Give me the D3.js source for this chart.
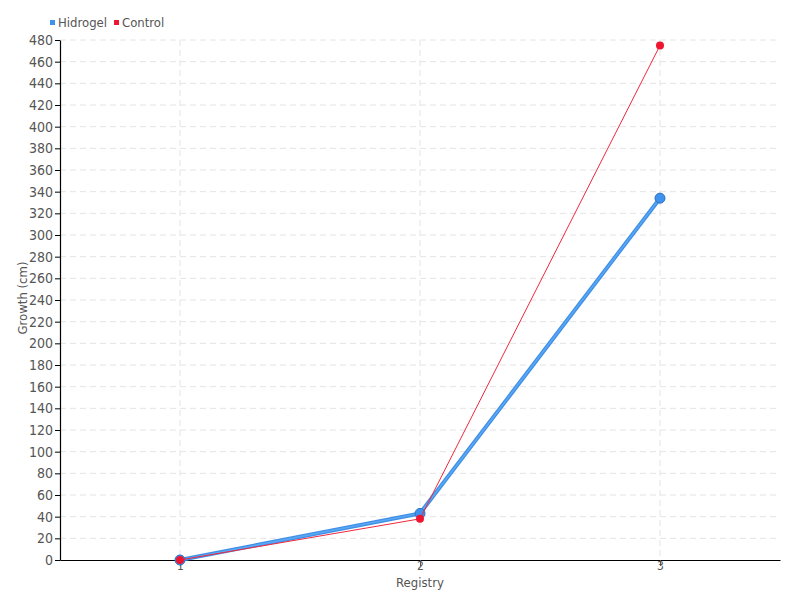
<!DOCTYPE html>
<html>
<head>
<meta charset="utf-8">
<script src="https://cdn.jsdelivr.net/npm/d3@7"></script>
<style>
  body { margin: 0; background: #fff; }
  text { font-family: "DejaVu Sans Condensed", "DejaVu Sans", sans-serif; fill: #555; }
</style>
</head>
<body>
<script>
var registry = [1, 2, 3];
var hidrogel = [0, 43, 334];
var control = [0, 38, 475];
var yTicks = d3.range(0, 481, 20);

var margin = { top: 40, right: 20, bottom: 40, left: 60 };
var width = 800 - margin.left - margin.right,
    height = 600 - margin.top - margin.bottom;

var x = d3.scaleLinear().domain([0.5, 3.5]).range([0, width]);
var y = d3.scaleLinear().domain([0, 480]).range([height, 0]);

var svg = d3.select("body").append("svg")
    .attr("width", 800)
    .attr("height", 600)
    .append("g")
    .attr("transform", "translate(" + margin.left + "," + margin.top + ")");

// grid
svg.append("g").selectAll("line.hg")
    .data(yTicks.slice(1))
    .enter().append("line")
    .attr("x1", 0).attr("x2", width)
    .attr("y1", function(d) { return y(d); })
    .attr("y2", function(d) { return y(d); })
    .attr("stroke", "#e4e4e4")
    .attr("stroke-dasharray", "6,4");

svg.append("g").selectAll("line.vg")
    .data(registry)
    .enter().append("line")
    .attr("y1", 0).attr("y2", height)
    .attr("x1", function(d) { return x(d); })
    .attr("x2", function(d) { return x(d); })
    .attr("stroke", "#e4e4e4")
    .attr("stroke-dasharray", "6,4");

// axes
var xAxis = svg.append("g")
    .attr("transform", "translate(0," + height + ")")
    .call(d3.axisBottom(x).tickValues(registry).tickFormat(d3.format("d")).tickSize(6).tickSizeOuter(0));
xAxis.select(".domain").attr("stroke", "#000").attr("stroke-width", 1.2);
xAxis.selectAll(".tick line").attr("stroke", "#555");
xAxis.selectAll(".tick text").attr("y", 1).attr("dy", "0.75em").style("font-size", "12px").attr("fill", "#555");

var yAxis = svg.append("g")
    .call(d3.axisLeft(y).tickValues(yTicks).tickSize(5).tickSizeOuter(0));
yAxis.select(".domain").attr("stroke", "#000").attr("stroke-width", 1.2);
yAxis.selectAll(".tick line").attr("stroke", "#000");
yAxis.selectAll(".tick text").attr("x", -7).style("font-size", "14px").attr("fill", "#555");

svg.append("text")
    .attr("x", width / 2)
    .attr("y", height + 27)
    .attr("text-anchor", "middle")
    .style("font-size", "13px")
    .text("Registry");

svg.append("text")
    .attr("transform", "translate(-33," + (height / 2 - 2) + ") rotate(-90)")
    .attr("text-anchor", "middle")
    .style("font-size", "13px")
    .text("Growth (cm)");

// series
var line = d3.line()
    .x(function(d, i) { return x(registry[i]); })
    .y(function(d) { return y(d); });

svg.append("path")
    .datum(hidrogel)
    .attr("fill", "none")
    .attr("stroke", "#3f8fe6")
    .attr("stroke-width", 4)
    .attr("d", line);
svg.append("path")
    .datum(hidrogel)
    .attr("fill", "none")
    .attr("stroke", "#5aa8f5")
    .attr("stroke-width", 1.5)
    .attr("d", line);

svg.append("g").selectAll("circle")
    .data(hidrogel)
    .enter().append("circle")
    .attr("cx", function(d, i) { return x(registry[i]); })
    .attr("cy", function(d) { return y(d); })
    .attr("r", 5)
    .attr("fill", "#3f93ee")
    .attr("stroke", "#2a6fc0")
    .attr("stroke-width", 1);

svg.append("path")
    .datum(control)
    .attr("fill", "none")
    .attr("stroke", "#f0283c")
    .attr("stroke-width", 1)
    .attr("d", line);

svg.append("g").selectAll("circle")
    .data(control)
    .enter().append("circle")
    .attr("cx", function(d, i) { return x(registry[i]); })
    .attr("cy", function(d) { return y(d); })
    .attr("r", 4)
    .attr("fill", "#ee1530");

// legend
var legend = [["Hidrogel", "#3f93ee"], ["Control", "#ee1530"]];
var lg = svg.append("g").attr("transform", "translate(-10,-18)");
var lx = 0;
legend.forEach(function(l) {
    lg.append("rect").attr("x", lx).attr("y", -2).attr("width", 5).attr("height", 5).attr("fill", l[1]);
    var t = lg.append("text").attr("x", lx + 8).attr("y", 5)
        .style("font-size", "13px").text(l[0]);
    lx += t.node().getComputedTextLength() + 15;
});
</script>
</body>
</html>
